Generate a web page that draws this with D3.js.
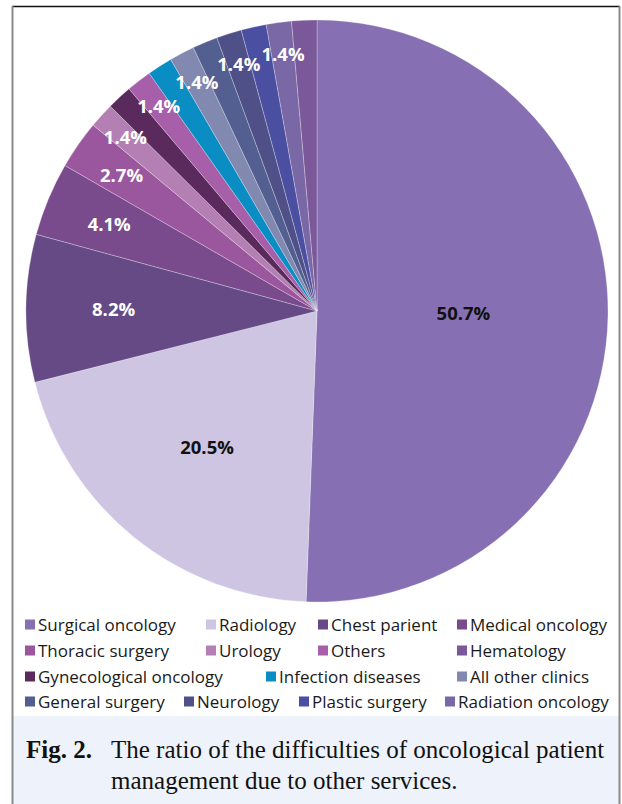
<!DOCTYPE html>
<html>
<head>
<meta charset="utf-8">
<script src="https://cdn.jsdelivr.net/npm/d3@7"></script>
<style>
  html, body { margin: 0; padding: 0; background: #fff; }
  svg { display: block; }
</style>
</head>
<body>
<svg id="chart" width="622" height="804"></svg>
<script>
// Services, clockwise from 12 o'clock, with their share (%) of difficulties
const services = [
  "Surgical oncology", "Radiology", "Chest parient", "Medical oncology",
  "Thoracic surgery", "Urology", "Gynecological oncology", "Others",
  "Infection diseases", "All other clinics", "General surgery", "Neurology",
  "Plastic surgery", "Radiation oncology", "Hematology"
];
const shares = [50.7, 20.5, 8.2, 4.1, 2.7, 1.4, 1.4, 1.4, 1.4, 1.4, 1.4, 1.4, 1.4, 1.4, 1.4];
const sliceColors = [
  "#8670b3", "#cdc5e2", "#654a85", "#7a4b8c",
  "#9b579e", "#b480b4", "#5b2a5d", "#a65fa8",
  "#0a8dc2", "#8189b0", "#535f90", "#4f5087",
  "#4a4fa2", "#7a67a5", "#7a5899"
];
// Legend rows as printed under the pie
const legendRows = [
  ["Surgical oncology", "Radiology", "Chest parient", "Medical oncology"],
  ["Thoracic surgery", "Urology", "Others", "Hematology"],
  ["Gynecological oncology", "Infection diseases", "All other clinics"],
  ["General surgery", "Neurology", "Plastic surgery", "Radiation oncology"]
];
const captionLead = "Fig. 2.";
const captionLines = [
  "The ratio of the difficulties of oncological patient",
  "management due to other services."
];

// ---- layout ----
const svg = d3.select("#chart");
const cx = 317, cy = 311, R = 291;
const legendX = [
  [38, 219, 331, 470],
  [38, 219, 331, 470],
  [38, 279, 470],
  [38, 197, 312, 458]
];
const legendY = [631, 657, 683, 708];

// caption panel and frame
svg.append("rect").attr("x", 12).attr("y", 716).attr("width", 608).attr("height", 88)
  .attr("fill", "#eef2fa");
svg.append("line").attr("x1", 12).attr("x2", 620).attr("y1", 6.5).attr("y2", 6.5)
  .attr("stroke", "#111").attr("stroke-width", 1.5);
svg.append("line").attr("x1", 12.5).attr("x2", 12.5).attr("y1", 6).attr("y2", 804)
  .attr("stroke", "#8a8a8a").attr("stroke-width", 2);
svg.append("line").attr("x1", 619.5).attr("x2", 619.5).attr("y1", 6).attr("y2", 804)
  .attr("stroke", "#8a8a8a").attr("stroke-width", 2);

// ---- pie ----
const data = services.map((s, i) => ({ name: s, value: shares[i], color: sliceColors[i] }));
const total = d3.sum(shares);
const pie = d3.pie().sort(null).value(d => d.value).startAngle(0).endAngle(2 * Math.PI);
const arcs = pie(data);
const arc = d3.arc().innerRadius(0).outerRadius(R);

const g = svg.append("g").attr("transform", `translate(${cx},${cy})`);
g.selectAll("path.slice").data(arcs).join("path")
  .attr("class", "slice")
  .attr("d", arc)
  .attr("fill", d => d.data.color)
  .attr("stroke", "rgba(255,255,255,0.45)")
  .attr("stroke-width", 0.6);

// labels: smaller slices sit further out; overlapping labels are dropped
const placed = [];
arcs.forEach(d => {
  const f = d.data.value / total;
  const r = R * Math.min(0.9, 0.43 - 0.1075 * Math.log(f));
  const a = (d.startAngle + d.endAngle) / 2;
  const x = r * Math.sin(a), y = -r * Math.cos(a);
  const last = placed[placed.length - 1];
  if (last && Math.hypot(last.x - x, last.y - y) < 34) return;
  placed.push({ x, y, d });
});
g.selectAll("text.val").data(placed).join("text")
  .attr("class", "val")
  .attr("x", p => p.x)
  .attr("y", p => p.y)
  .attr("dy", "0.36em")
  .attr("text-anchor", "middle")
  .attr("font-family", "'Open Sans', sans-serif")
  .attr("font-weight", 700)
  .attr("font-size", 18.5)
  .attr("fill", p => p.d.data.value >= 20 ? "#111" : "#fff")
  .text(p => d3.format(".1f")(p.d.data.value) + "%");

// ---- legend ----
const colorOf = new Map(data.map(d => [d.name, d.color]));
legendRows.forEach((row, ri) => {
  row.forEach((name, ci) => {
    const x = legendX[ri][ci], y = legendY[ri];
    svg.append("rect")
      .attr("x", x - 13).attr("y", y - 11.5).attr("width", 10).attr("height", 10)
      .attr("fill", colorOf.get(name));
    svg.append("text")
      .attr("x", x).attr("y", y)
      .attr("font-family", "'Open Sans', sans-serif")
      .attr("font-size", 17)
      .attr("fill", "#1a1a1a")
      .text(name);
  });
});

// ---- caption ----
const cap = svg.append("g").attr("font-family", "'Liberation Serif', 'DejaVu Serif', serif")
  .attr("fill", "#111").attr("font-size", 25);
cap.append("text").attr("x", 26).attr("y", 758).attr("font-weight", 700).text(captionLead);
captionLines.forEach((t, i) => {
  cap.append("text").attr("x", 111).attr("y", 758 + i * 31).text(t);
});
</script>
</body>
</html>
